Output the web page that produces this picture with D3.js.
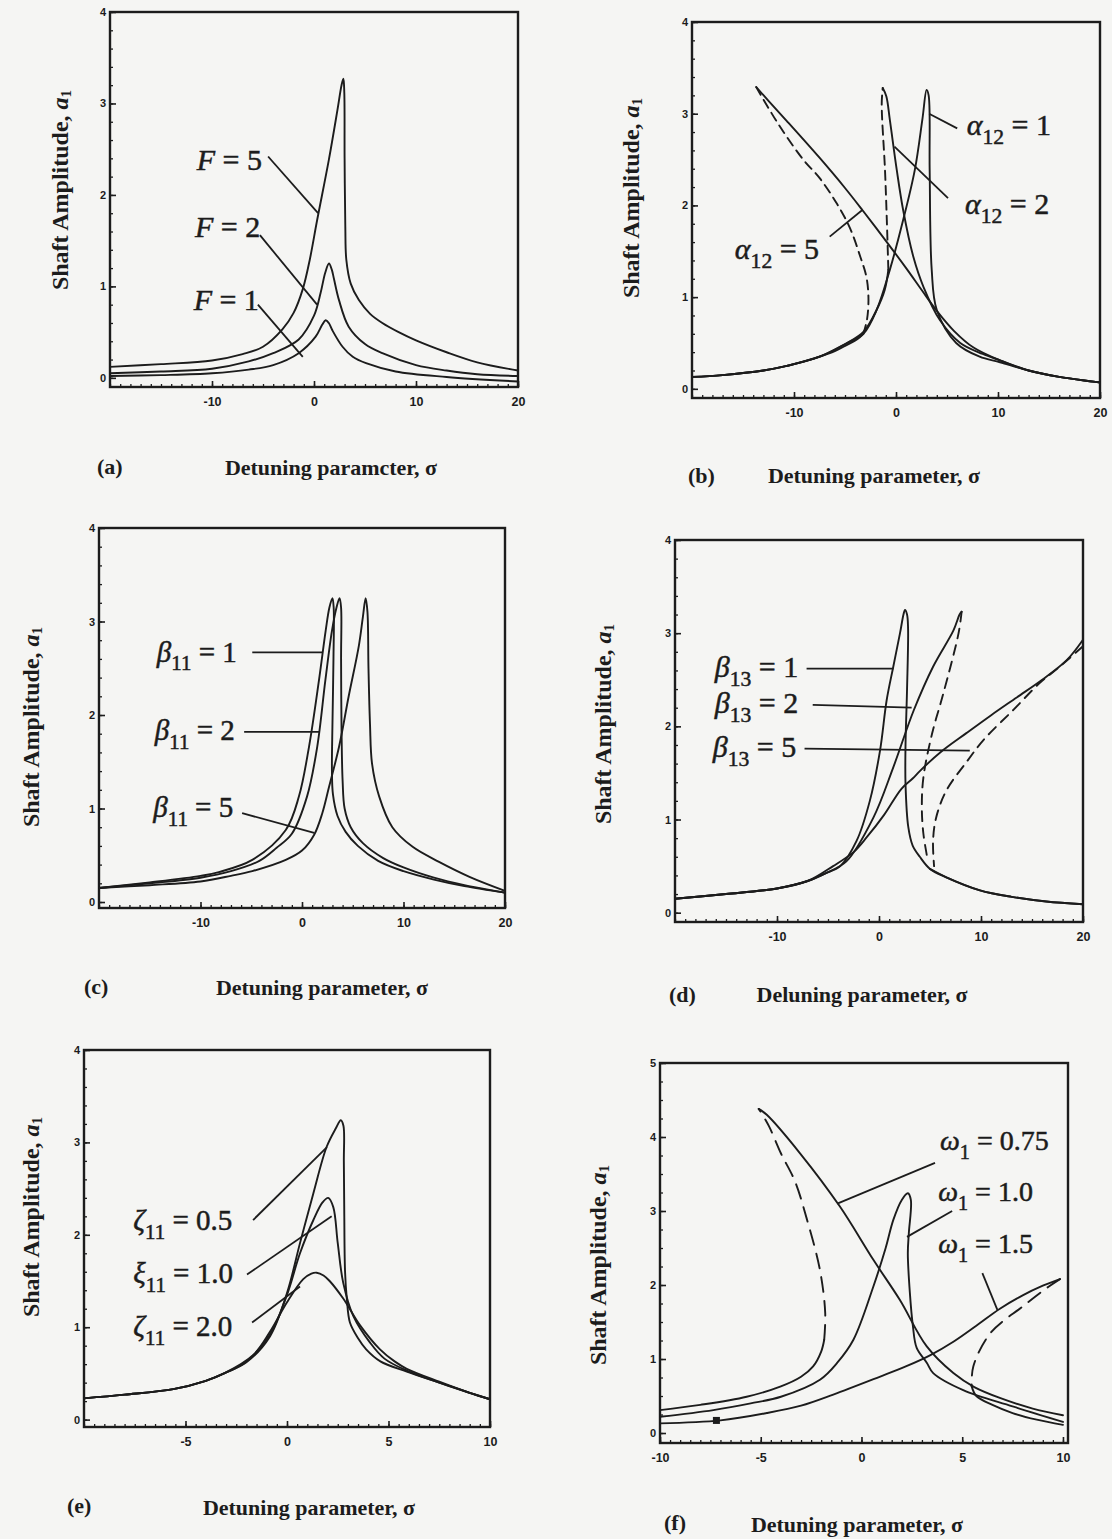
<!DOCTYPE html>
<html><head><meta charset="utf-8">
<script src="https://cdn.jsdelivr.net/npm/d3@7"></script>
<style>
html,body{margin:0;padding:0;background:#f5f5f3;}
svg{display:block;}
</style></head><body>
<svg id="c" width="1112" height="1539"></svg>
<script>
// ---------------- DATA (sigma, amplitude a1) ----------------
// (a) excitation F
const aF5 = [[-20,0.12],[-15,0.15],[-10,0.19],[-7,0.26],[-5,0.34],[-3.1,0.53],[-2,0.71],[-1.1,0.97],[-0.4,1.3],[0.3,1.72],[1.45,2.38],[2.3,2.93],[2.7,3.2],[2.88,3.27],[2.97,3.12],[3.0,2.4],[3.07,1.65],[3.17,1.29],[3.6,1.03],[4.4,0.85],[5.5,0.7],[6.7,0.6],[8.3,0.5],[10,0.41],[13,0.28],[16,0.17],[20,0.08]];
const aF2 = [[-20,0.05],[-15,0.07],[-10,0.1],[-6.4,0.18],[-4,0.27],[-1.5,0.42],[0,0.68],[0.65,0.93],[1.1,1.15],[1.47,1.25],[1.75,1.18],[1.96,1.08],[2.45,0.85],[3.4,0.56],[5,0.37],[6.7,0.27],[10,0.14],[13,0.08],[16,0.04],[20,0.02]];
const aF1 = [[-20,0.02],[-15,0.03],[-10,0.05],[-6.4,0.09],[-4,0.14],[-1.5,0.27],[0.16,0.45],[0.8,0.58],[1.14,0.63],[1.45,0.6],[1.8,0.52],[2.8,0.34],[3.8,0.23],[5.1,0.16],[8,0.07],[13,0.01],[20,-0.04]];
// (b) alpha12
const b5Lower = [[-20,0.13],[-17,0.15],[-13,0.2],[-10.7,0.25],[-7.5,0.35],[-6,0.41],[-4.8,0.48],[-3.8,0.54],[-3.2,0.6]];
const b5Dash  = [[-3.2,0.6],[-2.85,0.75],[-2.7,0.98],[-2.9,1.22],[-3.5,1.44],[-4.5,1.75],[-5.8,2.02],[-7.5,2.3],[-9.1,2.5],[-11.5,2.88],[-13.7,3.29]];
const b5Upper = [[-13.7,3.29],[-12.5,3.14],[-10.7,2.92],[-7.5,2.52],[-5,2.19],[-3.3,1.95],[-0.9,1.6],[1.1,1.3],[2.5,1.08],[4.0,0.85],[5.7,0.63],[7.6,0.45],[10.2,0.31],[13,0.2],[16,0.13],[20,0.07]];
const b2Lower = [[-20,0.13],[-17,0.15],[-13,0.2],[-10.7,0.25],[-7.5,0.35],[-4.8,0.5],[-3.2,0.62],[-1.9,0.86],[-1.1,1.08],[-0.75,1.3]];
const b2Dash  = [[-0.75,1.3],[-0.9,1.84],[-1.08,2.39],[-1.4,3.11],[-1.3,3.28]];
const b2Upper = [[-1.3,3.28],[-0.95,3.19],[-0.6,2.93],[0.07,2.39],[0.7,1.95],[1.7,1.44],[2.7,1.11],[4.3,0.75],[6.3,0.5],[8.5,0.38],[10.2,0.31],[13,0.2],[16,0.13],[20,0.07]];
const b1Curve = [[-20,0.13],[-17,0.15],[-13,0.2],[-10.7,0.25],[-7.5,0.35],[-4.8,0.5],[-3.2,0.6],[-1.9,0.86],[-0.6,1.3],[0.7,1.84],[1.85,2.39],[2.6,2.95],[3.0,3.26],[3.2,3.2],[3.3,2.39],[3.5,1.3],[4.0,0.86],[5.9,0.5],[8.2,0.35],[10.2,0.29],[13,0.2],[16,0.13],[20,0.07]];
// (c) beta11
const c1Curve = [[-20,0.15],[-15,0.21],[-10,0.28],[-8.2,0.32],[-4.9,0.45],[-1.6,0.77],[-0.3,1.13],[0.69,1.66],[1.67,2.37],[2.33,2.9],[2.7,3.15],[3.0,3.25],[3.12,3.15],[3.1,2.6],[3.0,1.9],[2.95,1.4],[3.05,1.15],[3.5,0.92],[4.3,0.75],[5.5,0.6],[7.5,0.44],[10,0.33],[13,0.24],[16,0.17],[20,0.1]];
const c2Curve = [[-20,0.15],[-15,0.2],[-10,0.26],[-7,0.33],[-4.2,0.44],[-2.5,0.58],[-1.0,0.73],[0.5,1.13],[1.5,1.66],[2.3,2.37],[2.95,2.9],[3.4,3.15],[3.7,3.25],[3.85,3.15],[3.85,2.6],[3.9,1.8],[4.0,1.3],[4.2,1.0],[4.8,0.8],[6,0.63],[8,0.47],[10,0.37],[13,0.26],[16,0.18],[20,0.1]];
const c5Curve = [[-20,0.15],[-15,0.18],[-10,0.22],[-7,0.28],[-4.9,0.33],[-1.6,0.45],[0,0.55],[1.2,0.72],[2.0,0.95],[2.66,1.23],[3.65,1.66],[4.6,2.2],[5.6,2.74],[6.0,3.05],[6.27,3.25],[6.45,3.1],[6.55,2.5],[6.7,1.9],[6.9,1.48],[7.6,1.13],[8.9,0.8],[10.9,0.59],[13.5,0.43],[16.5,0.27],[20,0.12]];
// (d) beta13
const dTail = [[5.0,0.47],[6.6,0.38],[9.9,0.24],[13,0.17],[16.4,0.12],[20,0.09]];
const d1Curve = [[-20,0.15],[-15,0.2],[-10,0.26],[-7,0.34],[-5.3,0.42],[-3.8,0.5],[-2.2,0.77],[-0.9,1.2],[0.1,1.74],[0.75,2.28],[1.4,2.64],[2.06,3.0],[2.4,3.2],[2.55,3.25],[2.75,3.2],[2.85,3.05],[2.75,2.4],[2.6,1.8],[2.6,1.38],[2.87,0.92],[3.3,0.72],[4.0,0.6],[5.0,0.47],[6.6,0.38],[9.9,0.24],[13,0.17],[16.4,0.12],[20,0.09]];
const d2Upper = [[-20,0.15],[-15,0.2],[-10,0.26],[-7,0.34],[-5.3,0.42],[-3.2,0.55],[-0.55,1.02],[1.4,1.56],[3.4,2.17],[5.3,2.64],[7.3,3.03],[7.9,3.2],[8.1,3.23]];
const d2Dash  = [[8.1,3.23],[7.8,3.0],[6.3,2.35],[5.2,1.92],[4.35,1.45],[4.2,1.13],[4.35,0.85],[4.8,0.55]];
const d5Upper = [[-20,0.15],[-15,0.2],[-10,0.26],[-7,0.34],[-4.5,0.5],[-2.5,0.65],[-1.2,0.81],[0.5,1.05],[2.2,1.33],[3.3,1.44],[4.0,1.52],[6,1.72],[8.6,1.93],[11,2.12],[13.5,2.31],[16,2.5],[18.4,2.71],[20,2.93]];
const d5Dash  = [[20,2.86],[17.5,2.62],[15.8,2.47],[13.2,2.18],[10.3,1.86],[8.6,1.62],[6.6,1.31],[5.6,1.02],[5.3,0.77],[5.4,0.5]];
// (e) zeta11
const e05 = [[-10,0.23],[-8,0.27],[-5.6,0.33],[-4,0.42],[-3.1,0.5],[-2.0,0.62],[-0.84,0.9],[0,1.37],[0.64,1.91],[1.3,2.45],[1.95,2.95],[2.4,3.15],[2.65,3.24],[2.78,3.18],[2.8,2.8],[2.82,2.27],[2.86,1.6],[2.95,1.3],[3.1,1.05],[3.5,0.88],[3.9,0.76],[4.6,0.63],[5.9,0.52],[7.5,0.4],[9,0.29],[10,0.22]];
const e10 = [[-10,0.23],[-8,0.27],[-5.6,0.33],[-4,0.42],[-3.1,0.5],[-2.0,0.63],[-0.84,0.92],[0,1.35],[0.64,1.8],[1.3,2.16],[1.75,2.35],[2.03,2.4],[2.28,2.3],[2.5,1.91],[2.77,1.48],[3.27,1.12],[4.1,0.83],[4.8,0.66],[5.9,0.53],[7.5,0.4],[9,0.29],[10,0.22]];
const e20 = [[-10,0.23],[-8,0.27],[-5.6,0.33],[-4,0.42],[-3.1,0.5],[-1.66,0.7],[-0.84,0.95],[0,1.27],[0.8,1.52],[1.2,1.58],[1.46,1.59],[1.8,1.56],[2.1,1.5],[2.77,1.31],[3.6,1.02],[4.58,0.76],[5.3,0.63],[5.9,0.55],[7.5,0.41],[9,0.29],[10,0.22]];
// (f) omega1
const f075Lower = [[-10,0.31],[-8,0.38],[-5.7,0.49],[-4.0,0.63],[-3,0.76],[-2.4,0.9],[-2.0,1.1],[-1.85,1.26]];
const f075Dash  = [[-1.85,1.26],[-1.8,1.62],[-2.06,2.2],[-2.7,2.88],[-3.3,3.4],[-4.0,3.78],[-4.6,4.15],[-5.1,4.38]];
const f075Upper = [[-5.1,4.38],[-4.7,4.3],[-3.05,3.78],[-1.07,3.06],[0.59,2.34],[1.9,1.8],[3.24,1.17],[4.56,0.81],[5.6,0.62],[6.9,0.47],[8.5,0.33],[10,0.24]];
const f10Curve  = [[-10,0.22],[-7.35,0.31],[-5.5,0.4],[-4.0,0.49],[-2.06,0.72],[-1.2,0.95],[-0.4,1.26],[0.59,1.98],[1.2,2.5],[1.58,2.88],[2.0,3.15],[2.3,3.24],[2.45,3.15],[2.35,2.7],[2.3,2.43],[2.4,1.9],[2.55,1.45],[2.74,1.15],[3.24,0.95],[3.56,0.81],[5.05,0.58],[7.5,0.36],[10,0.15]];
const f15Upper  = [[-10,0.13],[-7,0.17],[-4.7,0.27],[-3,0.37],[-1.4,0.52],[0.9,0.76],[2.2,0.9],[3.4,1.05],[4.6,1.24],[5.7,1.45],[6.87,1.68],[8,1.86],[9,1.99],[9.85,2.08]];
const f15Dash   = [[9.85,2.08],[9.3,1.98],[8.0,1.71],[6.4,1.35],[5.55,0.9],[5.47,0.63]];
const f15Lower  = [[5.47,0.63],[5.7,0.5],[6.5,0.38],[7.5,0.27],[8.7,0.18],[10,0.11]];
const fMarker   = [[-7.2,0.17]];

// tick labels
const xTicks40 = [-10,0,10,20];
const xTicks10e = [-5,0,5,10];
const xTicks10f = [-10,-5,0,5,10];
const yTicks4 = [0,1,2,3,4];
const yTicks5 = [0,1,2,3,4,5];

// curve labels: [symbol, subscript, rest]
const aLabels = [['F','',' = 5'],['F','',' = 2'],['F','',' = 1']];
const bLabels = [['α','12',' = 1'],['α','12',' = 2'],['α','12',' = 5']];
const cLabels = [['β','11',' = 1'],['β','11',' = 2'],['β','11',' = 5']];
const dLabels = [['β','13',' = 1'],['β','13',' = 2'],['β','13',' = 5']];
const eLabels = [['ζ','11',' = 0.5'],['ξ','11',' = 1.0'],['ζ','11',' = 2.0']];
const fLabels = [['ω','1',' = 0.75'],['ω','1',' = 1.0'],['ω','1',' = 1.5']];

// ---------------- LAYOUT ----------------
const panels = [
 {tag:'(a)', title:'Detuning paramcter, σ', xr:[110,518], yr:[387,12], xd:[-20,20], yd:[-0.1,4], xt:xTicks40, yt:yTicks4, xm:1, ym:0.2,
  series:[{d:aF5},{d:aF2},{d:aF1}], dash:'9,6',
  labels:aLabels, lpos:[[-11.5,2.27],[-11.67,1.54],[-11.8,0.74]], lead:[[[-4.5,2.42],[0.4,1.8]],[[-5.3,1.56],[0.3,0.8]],[[-5.5,0.8],[-1.1,0.23]]], lsize:30,
  yl:[62,190], tl:[97,474], tc:[331,475]},
 {tag:'(b)', title:'Detuning parameter, σ', xr:[692,1100], yr:[398,22], xd:[-20,20], yd:[-0.1,4], xt:xTicks40, yt:yTicks4, xm:1, ym:0.2,
  series:[{d:b5Lower},{d:b5Dash,dash:1},{d:b5Upper},{d:b2Lower},{d:b2Dash,dash:1},{d:b2Upper},{d:b1Curve}], dash:'9,6',
  labels:bLabels, lpos:[[6.93,2.77],[6.76,1.91],[-15.8,1.42]], lead:[[[6.0,2.84],[3.25,3.0]],[[5.1,2.08],[-0.15,2.64]],[[-6.5,1.66],[-3.3,1.95]]], lsize:30,
  yl:[633,198], tl:[688,483], tc:[874,483]},
 {tag:'(c)', title:'Detuning parameter, σ', xr:[99,505], yr:[908,528], xd:[-20,20], yd:[-0.064,4], xt:xTicks40, yt:yTicks4, xm:1, ym:0.2,
  series:[{d:c1Curve},{d:c2Curve},{d:c5Curve}], dash:'9,6',
  labels:cLabels, lpos:[[-14.3,2.57],[-14.5,1.73],[-14.65,0.91]], lead:[[[-4.9,2.67],[2.0,2.67]],[[-5.7,1.82],[1.7,1.82]],[[-5.9,0.95],[1.2,0.74]]], lsize:29,
  yl:[33,727], tl:[84,994], tc:[322,995]},
 {tag:'(d)', title:'Deluning parameter, σ', xr:[675,1083], yr:[922,540], xd:[-20,20], yd:[-0.1,4], xt:xTicks40, yt:yTicks4, xm:1, ym:0.2,
  series:[{d:d1Curve},{d:d2Upper},{d:d2Dash,dash:1},{d:d5Upper},{d:d5Dash,dash:1},{d:dTail}], dash:'10,7',
  labels:dLabels, lpos:[[-16.1,2.53],[-16.1,2.14],[-16.3,1.67]], lead:[[[-7.1,2.62],[1.4,2.62]],[[-6.5,2.23],[3.2,2.2]],[[-7.3,1.76],[8.9,1.74]]], lsize:30,
  yl:[605,724], tl:[669,1002], tc:[862,1002]},
 {tag:'(e)', title:'Detuning parameter, σ', xr:[84,490], yr:[1427,1050], xd:[-10,10], yd:[-0.08,4], xt:xTicks10e, yt:yTicks4, xm:0.5, ym:0.2,
  series:[{d:e05},{d:e10},{d:e20}], dash:'9,6',
  labels:eLabels, lpos:[[-7.57,2.05],[-7.57,1.48],[-7.57,0.9]], lead:[[[-1.67,2.16],[1.97,2.95]],[[-1.97,1.57],[2.2,2.2]],[[-1.72,1.05],[0.64,1.44]]], lsize:29,
  yl:[33,1217], tl:[67,1513], tc:[309,1515]},
 {tag:'(f)', title:'Detuning parameter, σ', xr:[660,1068], yr:[1443,1063], xd:[-10,10.25], yd:[-0.135,5], xt:xTicks10f, yt:yTicks5, xm:0.5, ym:0.25,
  series:[{d:f075Lower},{d:f075Dash,dash:1},{d:f075Upper},{d:f10Curve},{d:f15Upper},{d:f15Dash,dash:1},{d:f15Lower}], dash:'15,9', marker:fMarker,
  labels:fLabels, lpos:[[3.9,3.82],[3.81,3.13],[3.81,2.43]], lead:[[[3.65,3.65],[-1.2,3.1]],[[4.5,3.0],[2.26,2.65]],[[6.0,2.16],[6.75,1.66]]], lsize:28,
  yl:[600,1265], tl:[664,1530], tc:[857,1532]}
];

const svg = d3.select('#c');
svg.append('rect').attr('width',1112).attr('height',1539).attr('fill','#f5f5f3');
const INK = '#1c1c1c';
const SERIF = 'Liberation Serif, Times New Roman, serif';

panels.forEach(p => {
  const g = svg.append('g');
  const x = d3.scaleLinear().domain(p.xd).range(p.xr);
  const y = d3.scaleLinear().domain(p.yd).range(p.yr);
  const [x0,x1] = p.xr, [yb,yt] = p.yr;

  // minor ticks
  const xMinor = d3.range(Math.ceil(p.xd[0]/p.xm)*p.xm, p.xd[1]+1e-9, p.xm);
  const yMinor = d3.range(0, p.yd[1]+1e-9, p.ym);
  g.append('g').attr('transform',`translate(0,${yb})`)
    .call(d3.axisBottom(x).tickValues(xMinor).tickSizeInner(-3).tickSizeOuter(0).tickFormat(''))
    .call(s=>{s.select('.domain').remove(); s.selectAll('line').attr('stroke',INK).attr('stroke-width',1.3);});
  g.append('g').attr('transform',`translate(${x0},0)`)
    .call(d3.axisLeft(y).tickValues(yMinor).tickSizeInner(-3).tickSizeOuter(0).tickFormat(''))
    .call(s=>{s.select('.domain').remove(); s.selectAll('line').attr('stroke',INK).attr('stroke-width',1.3);});
  // major ticks + labels
  g.append('g').attr('transform',`translate(0,${yb})`)
    .call(d3.axisBottom(x).tickValues(p.xt).tickSizeInner(-6).tickSizeOuter(0).tickPadding(10).tickFormat(d=>String(d)))
    .call(s=>{s.select('.domain').remove(); s.selectAll('line').attr('stroke',INK).attr('stroke-width',1.6);
      s.selectAll('text').attr('font-family','Liberation Sans, Arial, sans-serif').attr('font-weight','bold').attr('font-size',12.5).attr('fill',INK);});
  g.append('g').attr('transform',`translate(${x0},0)`)
    .call(d3.axisLeft(y).tickValues(p.yt).tickSizeInner(-6).tickSizeOuter(0).tickPadding(4).tickFormat(d=>String(d)))
    .call(s=>{s.select('.domain').remove(); s.selectAll('line').attr('stroke',INK).attr('stroke-width',1.6);
      s.selectAll('text').attr('font-family','Liberation Sans, Arial, sans-serif').attr('font-weight','bold').attr('font-size',11).attr('fill',INK);});

  // frame
  g.append('rect').attr('x',x0).attr('y',yt).attr('width',x1-x0).attr('height',yb-yt)
    .attr('fill','none').attr('stroke',INK).attr('stroke-width',2.4);

  // curves
  const line = d3.line().x(d=>x(d[0])).y(d=>y(d[1])).curve(d3.curveCatmullRom.alpha(0.5));
  p.series.forEach(s => {
    g.append('path').attr('d',line(s.d)).attr('fill','none').attr('stroke',INK)
      .attr('stroke-width',1.9).attr('stroke-linejoin','round').attr('stroke-linecap','round')
      .attr('stroke-dasharray', s.dash ? p.dash : null);
  });
  if (p.marker) {
    g.selectAll('rect.mk').data(p.marker).join('rect').attr('class','mk')
      .attr('x',d=>x(d[0])-3.5).attr('y',d=>y(d[1])-3.5).attr('width',7).attr('height',7).attr('fill',INK);
  }

  // curve labels + leaders
  p.labels.forEach((lab,i) => {
    const [a,b] = p.lead[i];
    g.append('line').attr('x1',x(a[0])).attr('y1',y(a[1])).attr('x2',x(b[0])).attr('y2',y(b[1]))
      .attr('stroke',INK).attr('stroke-width',1.8);
    const t = g.append('text').attr('x',x(p.lpos[i][0])).attr('y',y(p.lpos[i][1]))
      .attr('font-family',SERIF).attr('font-size',p.lsize).attr('fill',INK)
      .attr('stroke',INK).attr('stroke-width',0.5);
    t.append('tspan').attr('font-style','italic').text(lab[0]);
    if (lab[1]) {
      t.append('tspan').attr('font-size',p.lsize*0.72).attr('dy',p.lsize*0.3).text(lab[1]);
      t.append('tspan').attr('dy',-p.lsize*0.3).text(lab[2]);
    } else {
      t.append('tspan').text(lab[2]);
    }
  });

  // axis titles
  const yl = g.append('text').attr('transform',`translate(${p.yl[0]},${p.yl[1]}) rotate(-90)`)
    .attr('text-anchor','middle').attr('dominant-baseline','middle')
    .attr('font-family',SERIF).attr('font-weight','bold').attr('font-size',24).attr('fill',INK);
  yl.append('tspan').text('Shaft Amplitude, ');
  yl.append('tspan').attr('font-style','italic').text('a');
  yl.append('tspan').attr('font-size',15).attr('dy',6).text('1');

  g.append('text').attr('x',p.tl[0]).attr('y',p.tl[1])
    .attr('font-family',SERIF).attr('font-weight','bold').attr('font-size',22).attr('fill',INK)
    .text(p.tag);
  g.append('text').attr('x',p.tc[0]).attr('y',p.tc[1]).attr('text-anchor','middle')
    .attr('font-family',SERIF).attr('font-weight','bold').attr('font-size',22).attr('fill',INK)
    .text(p.title);
});
</script>
</body></html>
